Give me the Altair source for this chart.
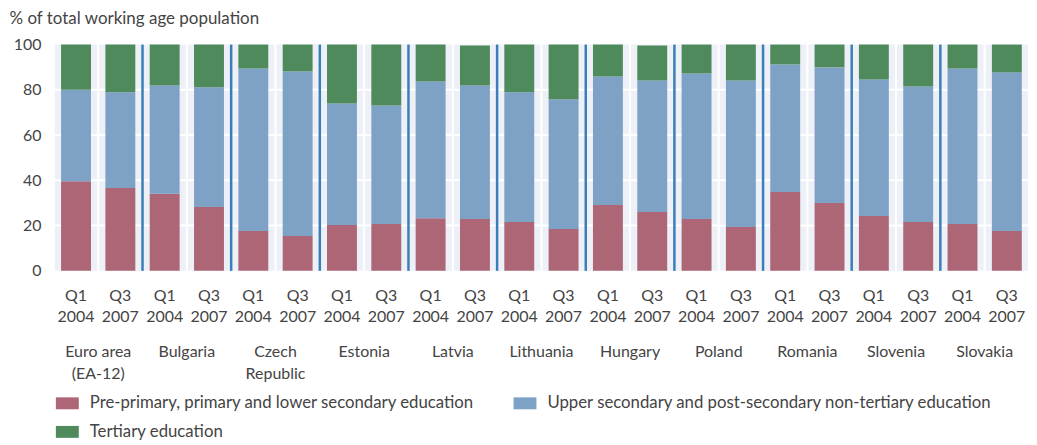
import altair as alt
import pandas as pd

countries = ["Euro area\n(EA-12)", "Bulgaria", "Czech\nRepublic", "Estonia", "Latvia",
             "Lithuania", "Hungary", "Poland", "Romania", "Slovenia", "Slovakia"]
periods = ["Q1 2004", "Q3 2007"]
categories = ["Pre-primary, primary and lower secondary education",
              "Upper secondary and post-secondary non-tertiary education",
              "Tertiary education"]
colors = ["#ad6676", "#7ea2c6", "#4f8a5d"]

lower = [39.6, 36.6, 34.1, 28.2, 17.6, 15.4, 20.3, 20.7, 23.3, 22.9, 21.6,
         18.5, 29.1, 26.0, 22.9, 19.4, 34.8, 30.0, 24.2, 21.6, 20.7, 17.6]
upper = [40.4, 42.3, 47.8, 52.9, 71.8, 72.7, 53.7, 52.4, 60.4, 59.0, 57.3,
         57.3, 56.8, 58.1, 64.3, 64.7, 56.4, 59.9, 60.4, 59.9, 68.7, 70.1]
tertiary = [20.0, 21.1, 18.1, 18.9, 10.6, 11.9, 26.0, 26.9, 16.3, 17.7, 21.1,
            24.2, 14.1, 15.5, 12.8, 15.9, 8.8, 10.1, 15.4, 18.5, 10.6, 12.3]
y_ticks = [0, 20, 40, 60, 80, 100]
grid_values = [20, 40, 60, 80]

keys = [f"{p}|{i}" for i in range(len(countries)) for p in periods]

rows = []
for k, lo, up, te in zip(keys, lower, upper, tertiary):
    for j, (cat, v) in enumerate(zip(categories, [lo, up, te])):
        rows.append({"bar": k, "cat": cat, "value": v, "ord": j})
df = pd.DataFrame(rows)

# legend entries flow column by column: order so rows read Pre | Upper, then Tertiary
legend_order = [categories[0], categories[2], categories[1]]
legend_colors = [colors[0], colors[2], colors[1]]

bands_df = pd.DataFrame({"bar": keys, "top": [100] * len(keys)})
grid_df = pd.DataFrame({"g": grid_values})
sep_df = pd.DataFrame({"bar": [f"{periods[0]}|{i}" for i in range(1, len(countries))]})
ctry_df = pd.DataFrame({"bar": [f"{periods[0]}|{i}" for i in range(len(countries))],
                        "name": countries})

TXT = "#444444"
FONT = "Lato"

xscale = alt.Scale(domain=keys, paddingInner=0, paddingOuter=0)
yscale = alt.Scale(domain=[0, 100], nice=False)

xaxis = alt.Axis(labelExpr="split(split(datum.value, '|')[0], ' ')",
                 labelAngle=0, domain=False, ticks=False, labelPadding=17,
                 labelBaseline="top", labelLineHeight=21, labelFontSize=16,
                 title=None, labelColor=TXT, labelFont=FONT, grid=False)
yaxis = alt.Axis(values=y_ticks, grid=False, domain=False,
                 ticks=False, labelPadding=13, labelFontSize=16,
                 labelColor=TXT, labelFont=FONT,
                 title="% of total working age population", titleAngle=0,
                 titleAlign="left", titleBaseline="alphabetic", titleX=-45, titleY=-21,
                 titleFontSize=17, titleFontWeight="normal", titleColor=TXT,
                 titleFont=FONT)

bands = alt.Chart(bands_df).mark_bar(color="#edf0f7", width=alt.RelativeBandSize(0.955)).encode(
    x=alt.X("bar:N", scale=xscale, sort=keys, axis=xaxis),
    y=alt.Y("top:Q", scale=yscale, axis=yaxis, stack=None),
)

grid = alt.Chart(grid_df).mark_rule(color="white", strokeWidth=2).encode(
    y=alt.Y("g:Q", scale=yscale, axis=yaxis)
)

seps = alt.Chart(sep_df).mark_rule(color="#3a7db8", strokeWidth=2.5).encode(
    x=alt.X("bar:N", scale=xscale, sort=keys, bandPosition=0, axis=xaxis)
)

bars = alt.Chart(df).mark_bar(width=alt.RelativeBandSize(0.675)).encode(
    x=alt.X("bar:N", scale=xscale, sort=keys, axis=xaxis),
    y=alt.Y("value:Q", scale=yscale, stack="zero", axis=yaxis),
    color=alt.Color("cat:N", sort=legend_order,
                    scale=alt.Scale(domain=legend_order, range=legend_colors),
                    legend=alt.Legend(orient="none", legendX=2, legendY=348, columns=2,
                                      title=None, symbolType="M-1,-0.52H1V0.52H-1Z",
                                      symbolSize=529, symbolStrokeWidth=0, symbolOpacity=1,
                                      labelFontSize=16.8, labelLimit=600, labelOffset=11,
                                      columnPadding=39, rowPadding=8, padding=0,
                                      gridAlign="each",
                                      labelColor=TXT, labelFont=FONT)),
    order=alt.Order("ord:Q"),
)

names = alt.Chart(ctry_df).mark_text(baseline="top", align="center", lineBreak="\n",
                                     fontSize=16, lineHeight=22, color=TXT,
                                     font=FONT).encode(
    x=alt.X("bar:N", scale=xscale, sort=keys, bandPosition=1, axis=xaxis),
    y=alt.value(300),
    text="name:N",
)

chart = alt.layer(bands, grid, seps, bars, names).properties(
    width=978, height=227,
    autosize=alt.AutoSizeParams(type="none"),
    padding={"left": 46, "top": 36, "right": 0, "bottom": 170},
).configure_view(stroke=None)

chart.save("out.html", embed_options={"renderer": "svg", "actions": False})
